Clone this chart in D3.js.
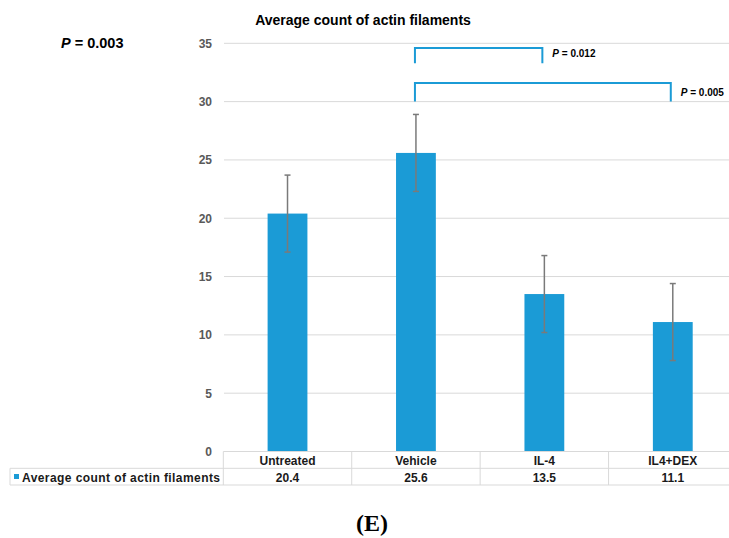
<!DOCTYPE html>
<html><head><meta charset="utf-8">
<script src="https://cdn.jsdelivr.net/npm/d3@7"></script>
<style>body{margin:0;background:#fff}svg{display:block;font-family:"Liberation Sans",Arial,sans-serif}</style>
</head><body><svg id="c" width="729" height="538"></svg>
<script>
const categories = ["Untreated", "Vehicle", "IL-4", "IL4+DEX"];
const values = [20.4, 25.6, 13.5, 11.1];
const errors = [3.3, 3.3, 3.3, 3.3];
const yTicks = [0, 5, 10, 15, 20, 25, 30, 35];
const seriesName = "Average count of actin filaments";
const brackets = [
  {from: "Vehicle", to: "IL-4", top: 34.6, leg: 33.3, label: "P = 0.012"},
  {from: "Vehicle", to: "IL4+DEX", top: 31.6, leg: 30.0, label: "P = 0.005"}
];

const svg = d3.select("#c");
const blue = "#1b9bd6";
const x = d3.scaleBand().domain(categories).range([223.3, 737]).padding(0);
const y = d3.scaleLinear().domain([0, 35]).range([451.5, 43.3]);
const barW = x.bandwidth() * 0.31;
const cx = d => x(d) + x.bandwidth() / 2;

// gridlines
svg.append("g").selectAll("line").data(yTicks.filter(t => t > 0)).join("line")
  .attr("x1", 224).attr("x2", 737).attr("y1", d => y(d)).attr("y2", d => y(d))
  .attr("stroke", "#d9d9d9").attr("stroke-width", 1);

// y axis labels
const yAxis = d3.axisLeft(y).tickValues(yTicks).tickSize(0).tickPadding(0);
const ga = svg.append("g").attr("transform", "translate(212,0)").call(yAxis);
ga.select(".domain").remove();
ga.selectAll("text").attr("font-size", 12).attr("font-weight", "bold").attr("fill", "#595959")
  .attr("font-family", "Liberation Sans, Arial, sans-serif");

// bars
svg.append("g").selectAll("rect").data(categories).join("rect")
  .attr("x", d => cx(d) - barW / 2).attr("width", barW)
  .attr("y", (d, i) => y(values[i])).attr("height", (d, i) => y(0) - y(values[i]))
  .attr("fill", blue);

// error bars
const eg = svg.append("g").attr("stroke", "#7a7a7a").attr("stroke-width", 1.5);
categories.forEach((c, i) => {
  const hi = y(values[i] + errors[i]), lo = y(values[i] - errors[i]);
  eg.append("line").attr("x1", cx(c)).attr("x2", cx(c)).attr("y1", hi).attr("y2", lo);
  eg.append("line").attr("x1", cx(c) - 3).attr("x2", cx(c) + 3).attr("y1", hi).attr("y2", hi);
  eg.append("line").attr("x1", cx(c) - 3).attr("x2", cx(c) + 3).attr("y1", lo).attr("y2", lo);
});

// brackets
brackets.forEach(b => {
  const x1 = cx(b.from) - 1, x2 = cx(b.to) - 2;
  svg.append("path")
    .attr("d", `M${x1},${y(b.leg)}V${y(b.top)}H${x2}V${y(b.leg)}`)
    .attr("fill", "none").attr("stroke", blue).attr("stroke-width", 2);
  const t = svg.append("text").attr("x", x2 + 10).attr("y", y(b.top) + 14 * (b.top > 33 ? 0.62 : 0.9))
    .attr("font-size", 10).attr("font-weight", "bold").attr("fill", "#000");
  t.append("tspan").attr("font-style", "italic").text("P");
  t.append("tspan").text(b.label.slice(1));
});

// title
svg.append("text").attr("x", 363).attr("y", 25).attr("text-anchor", "middle")
  .attr("font-size", 14).attr("font-weight", "bold").text(seriesName);

// P overall
const pt = svg.append("text").attr("x", 61).attr("y", 48).attr("font-size", 14.5).attr("font-weight", "bold");
pt.append("tspan").attr("font-style", "italic").text("P");
pt.append("tspan").text(" = 0.003");

// data table
const tTop = y(0), tMid = 468.3, tBot = 485;
const tg = svg.append("g").attr("stroke", "#d9d9d9").attr("stroke-width", 1);
tg.append("line").attr("x1", 223.3).attr("x2", 737).attr("y1", tTop).attr("y2", tTop);
tg.append("line").attr("x1", 10).attr("x2", 737).attr("y1", tMid).attr("y2", tMid);
tg.append("line").attr("x1", 10).attr("x2", 737).attr("y1", tBot).attr("y2", tBot);
tg.append("line").attr("x1", 10).attr("x2", 10).attr("y1", tMid).attr("y2", tBot);
categories.forEach(c => {
  tg.append("line").attr("x1", x(c)).attr("x2", x(c)).attr("y1", tTop).attr("y2", tBot);
});
svg.append("g").selectAll("text").data(categories).join("text")
  .attr("x", d => cx(d)).attr("y", 464.5).attr("text-anchor", "middle")
  .attr("font-size", 12).attr("font-weight", "bold").attr("fill", "#1a1a1a").text(d => d);
svg.append("g").selectAll("text").data(values).join("text")
  .attr("x", (d, i) => cx(categories[i])).attr("y", 481.5).attr("text-anchor", "middle")
  .attr("font-size", 12).attr("font-weight", "bold").attr("fill", "#1a1a1a").text(d => d.toFixed(1));
svg.append("rect").attr("x", 14).attr("y", 474).attr("width", 5).attr("height", 5).attr("fill", blue);
svg.append("text").attr("x", 22).attr("y", 481.5).attr("font-size", 12).attr("font-weight", "bold")
  .attr("fill", "#1a1a1a").attr("textLength", 198).text(seriesName);

// panel label
svg.append("text").attr("x", 372).attr("y", 531).attr("text-anchor", "middle")
  .attr("font-family", "Liberation Serif, Times New Roman, serif").attr("font-size", 24)
  .attr("font-weight", "bold").text("(E)");
</script></body></html>
